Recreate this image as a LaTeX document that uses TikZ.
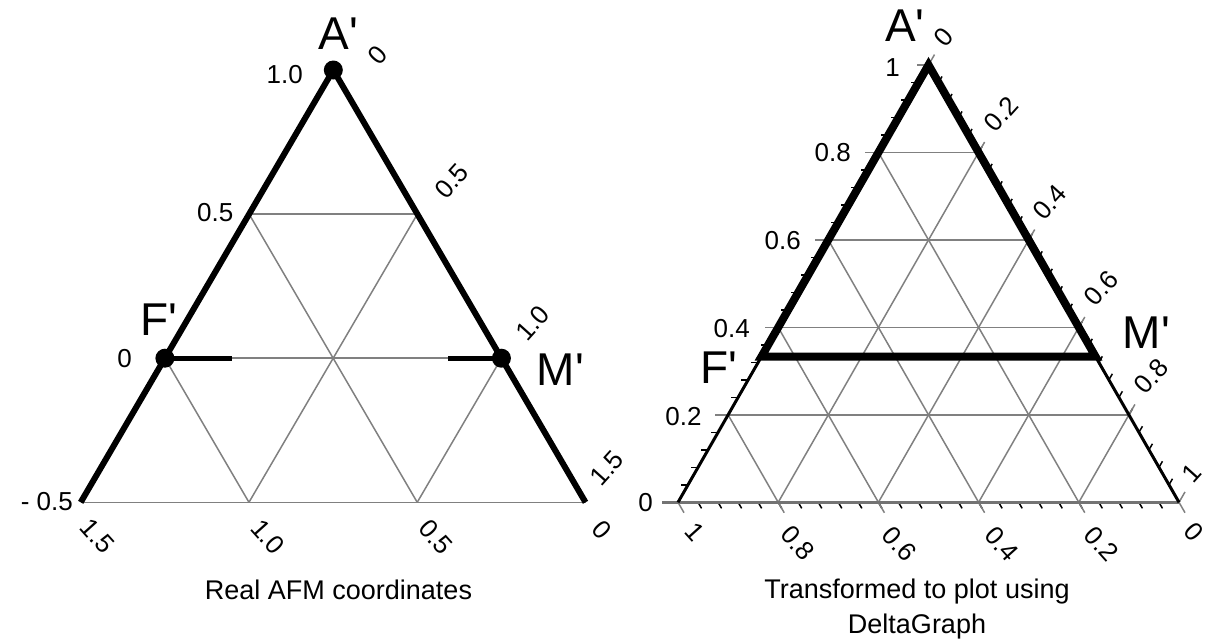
\documentclass[tikz,border=0pt]{standalone}
\usepackage{fontspec}
\newfontfamily\lab{Liberation Sans}
\usetikzlibrary{calc}
\begin{document}
\begin{tikzpicture}[x=1pt,y=1pt,
  lthick/.style={line width=6pt, line join=miter},
  rthick/.style={line width=8pt, line join=miter},
  rthin/.style={line width=3pt},
  gridline/.style={line width=1.5pt, black!50},
  baseaxis/.style={line width=3.5pt, black!55},
  stub/.style={line width=5pt},
  minortick/.style={line width=1.5pt, black},
  ticklab/.style={font=\lab\fontsize{26}{26}\selectfont, inner sep=0pt},
  biglab/.style={font=\lab\fontsize{46}{46}\selectfont, inner sep=0pt},
  caption/.style={font=\lab\fontsize{27}{35}\selectfont, inner sep=0pt, anchor=base},
  vdot/.style={fill=black}
]
\useasboundingbox (0,0) rectangle (1206,-641);

% ---------------- Left triangle: real AFM coordinates ----------------
\coordinate (LA) at (333.3,-70);
\coordinate (LL) at (80.7,-502.3);
\coordinate (LR) at (585.5,-502.3);
\coordinate (LF) at ($(LL)!1/3!(LA)$);
\coordinate (LM) at ($(LR)!1/3!(LA)$);
\coordinate (LL2) at ($(LL)!2/3!(LA)$);
\coordinate (LR2) at ($(LR)!2/3!(LA)$);
\coordinate (LB1) at ($(LL)!1/3!(LR)$);
\coordinate (LB2) at ($(LL)!2/3!(LR)$);

\draw[gridline] (LL) -- (LR);
\draw[gridline] (LF) -- (LM);
\draw[gridline] (LL2) -- (LR2);
\draw[gridline] (LF) -- (LB1);
\draw[gridline] (LL2) -- (LB2);
\draw[gridline] (LB1) -- (LR2);
\draw[gridline] (LB2) -- (LM);
\draw[lthick] (LL) -- (LA) -- (LR);
\draw[stub] (LF) -- ++(67,0);
\draw[stub] (LM) -- ++(-53,0);
\fill[vdot] (LA) circle[radius=9.5pt];
\fill[vdot] (LF) circle[radius=9.5pt];
\fill[vdot] (LM) circle[radius=9.5pt];

\node[biglab] (lA) at (338.5,-33.5) {A'};
\node[biglab] (lF) at (159,-320) {F'};
\node[biglab] (lM) at (560.5,-370) {M'};

\node[ticklab, anchor=east] (lv10) at (303,-75) {1.0};
\node[ticklab, anchor=east] (lv05) at (233.5,-213) {0.5};
\node[ticklab] (lv00) at (124.5,-359) {0};
\node[ticklab, anchor=east] (lvm05) at (73,-502) {- 0.5};

\node[ticklab, rotate=48] (lr00) at (377.5,-55.5) {0};
\node[ticklab, rotate=48] (lr05) at (451.5,-181) {0.5};
\node[ticklab, rotate=48] (lr10) at (532.5,-323) {1.0};
\node[ticklab, rotate=48] (lr15) at (607,-468) {1.5};

\node[ticklab, rotate=-48] (lb15) at (97.5,-536) {1.5};
\node[ticklab, rotate=-48] (lb10) at (268,-536.5) {1.0};
\node[ticklab, rotate=-48] (lb05) at (436,-537) {0.5};
\node[ticklab, rotate=-48] (lb00) at (601.7,-530) {0};

\node[caption] (lcap) at (338.5,-599) {Real AFM coordinates};

% ---------------- Right triangle: DeltaGraph ternary ----------------
\coordinate (RA) at (928.5,-65);
\coordinate (RL) at (678,-502.3);
\coordinate (RR) at (1179,-502.3);
\coordinate (RF) at ($(RL)!1/3!(RA)$);
\coordinate (RM) at ($(RR)!1/3!(RA)$);

% minor ticks every 0.04
\foreach \i in {1,...,24} {
  \pgfmathsetmacro\f{\i/25}
  \draw[minortick] ($(RL)!\f!(RA)$) -- ++(-7,0);
  \draw[minortick] ($(RL)!\f!(RR)$) -- ++(3.5,-6.06);
  \draw[minortick] ($(RR)!\f!(RA)$) -- ++(3.5,6.06);
}
% grid lines with major ticks
\foreach \k in {1,...,4} {
  \pgfmathsetmacro\f{\k/5}
  \pgfmathsetmacro\g{1-\k/5}
  \draw[gridline] ($($(RL)!\f!(RA)$)+(-13,0)$) -- ($(RR)!\f!(RA)$);
  \draw[gridline] ($(RL)!\f!(RA)$) -- ($(RL)!\f!(RR)$) -- ++(6,-10.4);
  \draw[gridline] ($(RL)!\f!(RR)$) -- ($(RR)!\g!(RA)$) -- ++(6,10.4);
}
% corner ticks
\draw[gridline] (RA) -- ++(-12,0);
\draw[gridline] (RA) -- ++(6,10.4);
\draw[gridline] (RL) -- ++(6,-10.4);
\draw[gridline] (RR) -- ++(6,-10.4);
\draw[gridline] (RR) -- ++(6,10.4);
\draw[baseaxis] ($(RL)+(-16,0)$) -- (RR);

\draw[rthin] (RF) -- (RL);
\draw[rthin] (RM) -- (RR);
\draw[rthick] (RF) -- (RA) -- (RM) -- cycle;

\node[biglab] (rA) at (905,-25.5) {A'};
\node[biglab] (rF) at (719.3,-367.5) {F'};
\node[biglab] (rM) at (1146.5,-332.5) {M'};

\node[ticklab, anchor=east] (rv1) at (900,-67.5) {1};
\node[ticklab, anchor=east] (rv08) at (851,-153) {0.8};
\node[ticklab, anchor=east] (rv06) at (801,-241) {0.6};
\node[ticklab, anchor=east] (rv04) at (750,-328.3) {0.4};
\node[ticklab, anchor=east] (rv02) at (701.7,-416.7) {0.2};
\node[ticklab, anchor=east] (rv0) at (653,-503) {0};

\node[ticklab, rotate=48] (rr0) at (944,-36.7) {0};
\node[ticklab, rotate=48] (rr02) at (1001,-114) {0.2};
\node[ticklab, rotate=48] (rr04) at (1049.5,-202.5) {0.4};
\node[ticklab, rotate=48] (rr06) at (1101,-288) {0.6};
\node[ticklab, rotate=48] (rr08) at (1151,-376.5) {0.8};
\node[ticklab, rotate=48] (rr1) at (1191.5,-473.3) {1};

\node[ticklab, rotate=-48] (rb1) at (694.7,-531.7) {1};
\node[ticklab, rotate=-48] (rb08) at (798,-543.3) {0.8};
\node[ticklab, rotate=-48] (rb06) at (899.5,-544) {0.6};
\node[ticklab, rotate=-48] (rb04) at (1002,-544) {0.4};
\node[ticklab, rotate=-48] (rb02) at (1101.5,-544) {0.2};
\node[ticklab, rotate=-48] (rb0) at (1193.5,-531.7) {0};

\node[caption] (rcap1) at (917,-598) {Transformed to plot using};
\node[caption] (rcap2) at (917,-633) {DeltaGraph};
\end{tikzpicture}
\end{document}
